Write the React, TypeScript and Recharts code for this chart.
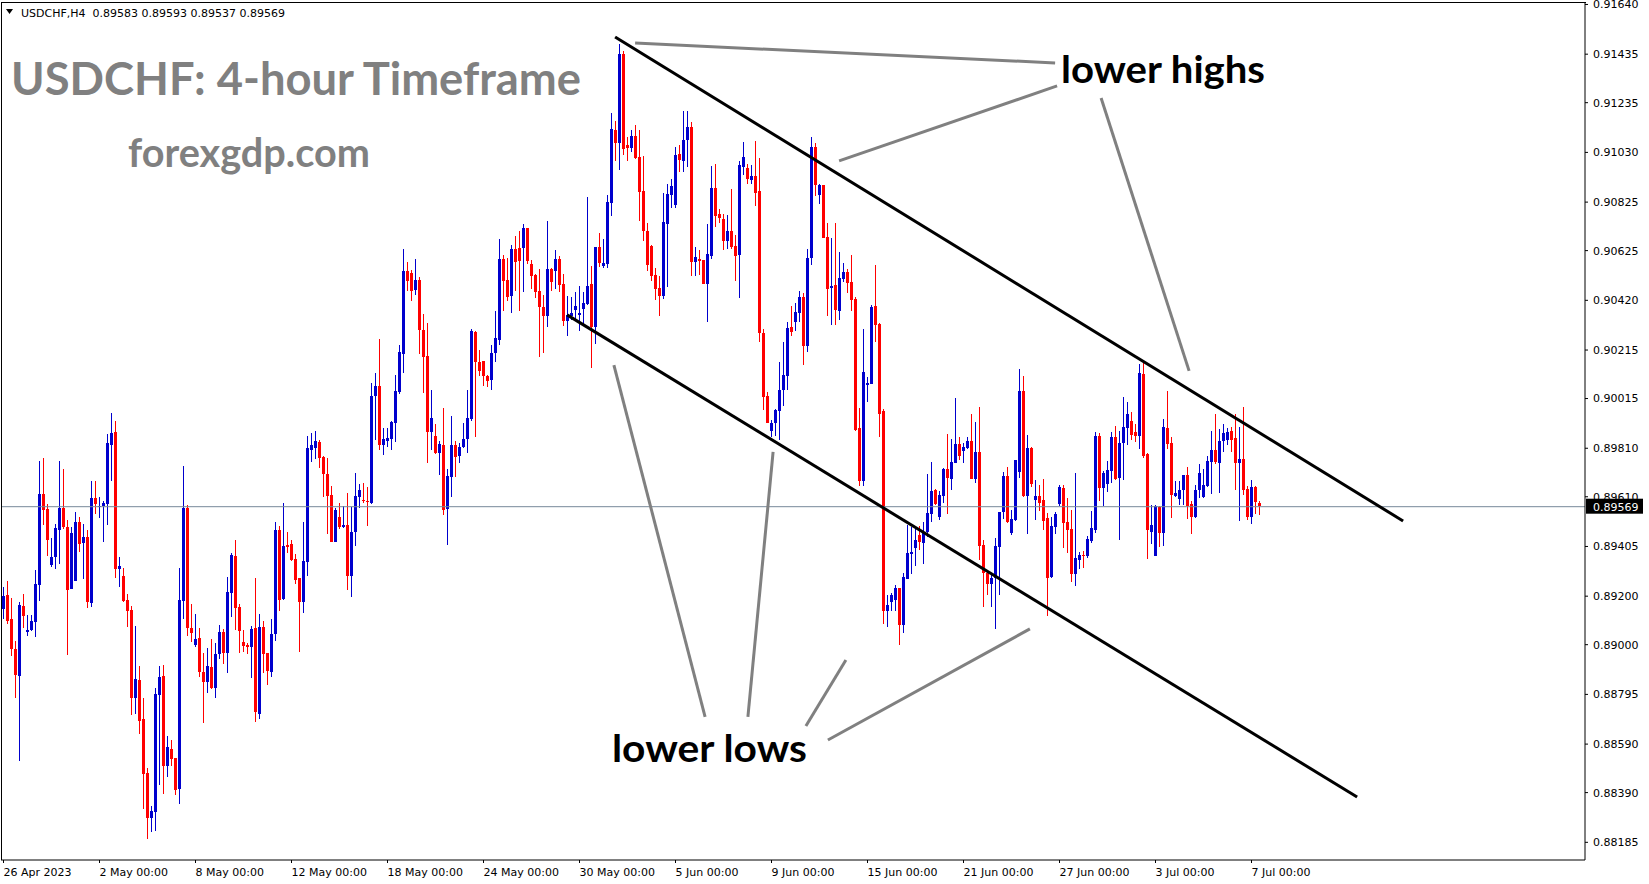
import React from 'react';
import { ComposedChart, Bar, XAxis, YAxis, ReferenceLine } from 'recharts';

// ---- Data (USDCHF H4 candles) ----
const opens = [
  0.89147,0.89205,0.89106,0.88982,0.88871,0.89159,0.89053,0.89058,0.89095,0.89246,
  0.89621,0.89559,0.89328,0.89363,0.89473,0.89565,0.89485,0.89229,0.89262,0.89506,
  0.89419,0.89444,0.89172,0.89604,0.89569,0.89572,0.89580,0.89823,0.89877,0.89312,
  0.89283,0.89184,0.89143,0.88781,0.88854,0.88693,0.88470,0.88285,0.88309,0.88792,
  0.88871,0.88499,0.88570,0.88532,0.88405,0.89180,0.89564,0.89069,0.88998,0.89027,
  0.88887,0.88846,0.88908,0.88821,0.88961,0.89052,0.88966,0.89213,0.89366,0.89155,
  0.89011,0.88998,0.88989,0.89068,0.88716,0.89074,0.88966,0.88891,0.89043,0.89472,
  0.89189,0.89411,0.89415,0.89353,0.89275,0.89175,0.89341,0.89803,0.89811,0.89836,
  0.89774,0.89705,0.89617,0.89423,0.89526,0.89485,0.89493,0.89283,0.89464,0.89609,
  0.89596,0.89592,0.89584,0.90026,0.90067,0.89823,0.89840,0.89848,0.89914,0.90042,
  0.90199,0.90541,0.90533,0.90462,0.90504,0.90298,0.90190,0.89877,0.89860,0.89790,
  0.89823,0.89557,0.89691,0.89823,0.89779,0.89815,0.89848,0.89930,0.90289,0.90166,
  0.90170,0.90107,0.90091,0.90203,0.90257,0.90590,0.90504,0.90438,0.90632,0.90636,
  0.90636,0.90718,0.90570,0.90524,0.90458,0.90393,0.90355,0.90549,0.90541,0.90590,
  0.90487,0.90335,0.90355,0.90380,0.90361,0.90384,0.90405,0.90487,0.90310,0.90640,
  0.90562,0.90570,0.90821,0.91123,0.91069,0.91436,0.91061,0.91048,0.91098,0.91011,
  0.90871,0.90706,0.90644,0.90524,0.90471,0.90437,0.90735,0.90854,0.90813,0.91023,
  0.90994,0.91081,0.91135,0.90578,0.90590,0.90586,0.90487,0.90603,0.90883,0.90776,
  0.90755,0.90664,0.90706,0.90644,0.90603,0.90970,0.90966,0.90916,0.90932,0.90871,
  0.90285,0.90024,0.89882,0.89914,0.89963,0.90050,0.90108,0.90310,0.90330,0.90367,
  0.90434,0.90231,0.90594,0.91052,0.90854,0.90895,0.90681,0.90471,0.90483,0.90376,
  0.90508,0.90537,0.90496,0.90426,0.89895,0.89675,0.90071,0.90075,0.90397,0.90323,
  0.89962,0.89139,0.89176,0.89185,0.89233,0.89081,0.89271,0.89374,0.89397,0.89452,
  0.89419,0.89465,0.89539,0.89638,0.89527,0.89613,0.89725,0.89683,0.89749,0.89828,
  0.89799,0.89811,0.89840,0.89683,0.89795,0.89411,0.89297,0.89250,0.89275,0.89403,
  0.89547,0.89695,0.89463,0.89514,0.89712,0.90046,0.89613,0.89811,0.89597,0.89613,
  0.89597,0.89522,0.89279,0.89486,0.89580,0.89646,0.89506,0.89477,0.89290,0.89349,
  0.89369,0.89365,0.89427,0.89473,0.89860,0.89646,0.89662,0.89716,0.89856,0.89687,
  0.89831,0.89893,0.89922,0.89877,0.89860,0.90116,0.89786,0.89464,0.89365,0.89567,
  0.89460,0.89893,0.89831,0.89612,0.89600,0.89637,0.89699,0.89580,0.89526,0.89637,
  0.89607,0.89654,0.89753,0.89803,0.89749,0.89840,0.89844,0.89881,0.89852,0.89749,
  0.89765,0.89642,0.89526,0.89650,0.89583,
];
const highs = [
  0.89239,0.89262,0.89192,0.89015,0.89177,0.89209,0.89122,0.89122,0.89308,0.89757,
  0.89770,0.89580,0.89440,0.89498,0.89757,0.89725,0.89514,0.89485,0.89547,0.89526,
  0.89498,0.89473,0.89675,0.89675,0.89610,0.89593,0.89869,0.89955,0.89922,0.89361,
  0.89316,0.89209,0.89159,0.89077,0.88912,0.88780,0.88491,0.88334,0.88821,0.88912,
  0.88916,0.88623,0.88607,0.88532,0.89316,0.89737,0.89576,0.89168,0.89127,0.89069,
  0.88965,0.88986,0.89023,0.89006,0.89081,0.89064,0.89279,0.89378,0.89431,0.89168,
  0.89060,0.89006,0.89075,0.89275,0.89126,0.89097,0.88966,0.89106,0.89506,0.89489,
  0.89584,0.89464,0.89431,0.89373,0.89275,0.89506,0.89860,0.89873,0.89881,0.89844,
  0.89777,0.89770,0.89654,0.89563,0.89584,0.89571,0.89625,0.89567,0.89708,0.89662,
  0.89666,0.89649,0.90079,0.90120,0.90260,0.89893,0.89893,0.89922,0.90112,0.90236,
  0.90632,0.90578,0.90545,0.90590,0.90516,0.90364,0.90326,0.90050,0.89910,0.89841,
  0.89976,0.89724,0.89943,0.89841,0.89832,0.89914,0.90050,0.90302,0.90294,0.90215,
  0.90170,0.90112,0.90236,0.90376,0.90673,0.90607,0.90595,0.90648,0.90685,0.90707,
  0.90735,0.90718,0.90587,0.90529,0.90549,0.90442,0.90747,0.90553,0.90627,0.90602,
  0.90529,0.90438,0.90434,0.90454,0.90479,0.90454,0.90846,0.90562,0.90640,0.90698,
  0.90673,0.90854,0.91193,0.91160,0.91477,0.91448,0.91094,0.91123,0.91143,0.91122,
  0.91015,0.90739,0.90648,0.90553,0.90520,0.90862,0.90899,0.90920,0.91052,0.91060,
  0.91201,0.91201,0.91155,0.90639,0.90627,0.90586,0.90735,0.90973,0.90982,0.90796,
  0.90776,0.90772,0.90879,0.90689,0.90994,0.91073,0.90982,0.90976,0.91077,0.91007,
  0.90302,0.90042,0.89928,0.89970,0.90165,0.90248,0.90330,0.90396,0.90409,0.90458,
  0.90450,0.90631,0.91093,0.91069,0.90899,0.90895,0.90739,0.90677,0.90739,0.90620,
  0.90574,0.90550,0.90607,0.90434,0.89976,0.90302,0.90104,0.90401,0.90566,0.90327,
  0.89972,0.89205,0.89215,0.89246,0.89233,0.89294,0.89494,0.89485,0.89489,0.89489,
  0.89506,0.89704,0.89753,0.89642,0.89634,0.89729,0.89869,0.89848,0.90018,0.89857,
  0.89832,0.89857,0.89952,0.89918,0.89980,0.89432,0.89308,0.89296,0.89440,0.89547,
  0.89712,0.89733,0.89556,0.89762,0.90137,0.90108,0.89865,0.89815,0.89680,0.89659,
  0.89683,0.89543,0.89527,0.89547,0.89658,0.89658,0.89605,0.89555,0.89708,0.89382,
  0.89386,0.89448,0.89551,0.89877,0.89873,0.89716,0.89757,0.89877,0.89902,0.89881,
  0.90021,0.90000,0.89959,0.89910,0.90157,0.90170,0.89790,0.89576,0.89576,0.89572,
  0.89930,0.90046,0.89856,0.89675,0.89675,0.89699,0.89732,0.89592,0.89658,0.89745,
  0.89724,0.89778,0.89881,0.89951,0.89889,0.89910,0.89893,0.89897,0.89951,0.89897,
  0.89980,0.89654,0.89679,0.89654,0.89593,
];
const lows = [
  0.89106,0.89085,0.88953,0.88781,0.88521,0.89069,0.89036,0.89058,0.89033,0.89180,
  0.89493,0.89366,0.89320,0.89312,0.89333,0.89477,0.88957,0.89229,0.89262,0.89382,
  0.89271,0.89151,0.89155,0.89539,0.89524,0.89423,0.89493,0.89675,0.89275,0.89238,
  0.89176,0.89073,0.88710,0.88714,0.88631,0.88322,0.88198,0.88227,0.88233,0.88421,
  0.88384,0.88454,0.88499,0.88380,0.88344,0.89106,0.89036,0.89011,0.88990,0.88866,
  0.88677,0.88800,0.88817,0.88780,0.88940,0.88920,0.88883,0.89114,0.89060,0.88966,
  0.88969,0.88961,0.88862,0.88681,0.88692,0.88883,0.88833,0.88866,0.89014,0.89138,
  0.89184,0.89378,0.89345,0.89250,0.88969,0.89130,0.89283,0.89753,0.89766,0.89729,
  0.89609,0.89456,0.89423,0.89423,0.89477,0.89481,0.89225,0.89196,0.89407,0.89563,
  0.89584,0.89489,0.89580,0.89844,0.89803,0.89782,0.89815,0.89803,0.89836,0.90034,
  0.90120,0.90458,0.90417,0.90442,0.90199,0.90038,0.89749,0.89803,0.89786,0.89699,
  0.89536,0.89411,0.89607,0.89691,0.89749,0.89811,0.89790,0.89922,0.89856,0.90107,
  0.90067,0.90063,0.90050,0.90166,0.90236,0.90376,0.90417,0.90368,0.90458,0.90376,
  0.90454,0.90570,0.90467,0.90430,0.90186,0.90203,0.90310,0.90458,0.90467,0.90454,
  0.90314,0.90273,0.90339,0.90343,0.90294,0.90314,0.90401,0.90141,0.90240,0.90557,
  0.90553,0.90553,0.90768,0.90995,0.90958,0.91020,0.90995,0.91032,0.91003,0.90747,
  0.90664,0.90541,0.90499,0.90421,0.90353,0.90425,0.90475,0.90802,0.90802,0.90949,
  0.90949,0.90970,0.90520,0.90520,0.90524,0.90487,0.90330,0.90590,0.90722,0.90739,
  0.90627,0.90631,0.90631,0.90499,0.90429,0.90937,0.90899,0.90899,0.90809,0.90247,
  0.89970,0.89913,0.89857,0.89857,0.89844,0.89984,0.90050,0.90273,0.90293,0.90330,
  0.90153,0.90207,0.90565,0.90850,0.90817,0.90677,0.90355,0.90318,0.90318,0.90341,
  0.90496,0.90451,0.90376,0.89881,0.89655,0.89655,0.90001,0.90075,0.90250,0.89857,
  0.89085,0.89073,0.89139,0.89139,0.88999,0.89047,0.89271,0.89292,0.89325,0.89391,
  0.89333,0.89444,0.89506,0.89576,0.89514,0.89585,0.89539,0.89638,0.89749,0.89762,
  0.89749,0.89807,0.89683,0.89667,0.89349,0.89157,0.89206,0.89157,0.89065,0.89206,
  0.89519,0.89502,0.89452,0.89510,0.89688,0.89609,0.89457,0.89650,0.89514,0.89552,
  0.89473,0.89118,0.89275,0.89456,0.89571,0.89398,0.89378,0.89260,0.89240,0.89312,
  0.89316,0.89357,0.89419,0.89460,0.89592,0.89571,0.89629,0.89666,0.89679,0.89431,
  0.89679,0.89823,0.89843,0.89836,0.89807,0.89770,0.89353,0.89415,0.89365,0.89402,
  0.89406,0.89807,0.89522,0.89607,0.89576,0.89576,0.89518,0.89456,0.89522,0.89605,
  0.89605,0.89650,0.89621,0.89745,0.89625,0.89794,0.89823,0.89794,0.89637,0.89510,
  0.89617,0.89514,0.89497,0.89538,0.89537,
];
const closes = [
  0.89200,0.89097,0.88982,0.88875,0.89163,0.89118,0.89062,0.89097,0.89250,0.89621,
  0.89555,0.89432,0.89363,0.89481,0.89565,0.89485,0.89225,0.89460,0.89506,0.89415,
  0.89444,0.89176,0.89604,0.89580,0.89572,0.89584,0.89832,0.89873,0.89312,0.89324,
  0.89180,0.89139,0.88781,0.88858,0.88685,0.88466,0.88285,0.88314,0.88796,0.88866,
  0.88499,0.88578,0.88528,0.88401,0.89184,0.89564,0.89069,0.89048,0.89023,0.88887,
  0.88846,0.88912,0.88821,0.88961,0.89052,0.88966,0.89217,0.89369,0.89151,0.89055,
  0.88994,0.88989,0.89064,0.88722,0.89074,0.88961,0.88891,0.89046,0.89472,0.89184,
  0.89407,0.89402,0.89349,0.89266,0.89175,0.89345,0.89811,0.89823,0.89840,0.89770,
  0.89705,0.89613,0.89423,0.89555,0.89485,0.89493,0.89283,0.89464,0.89613,0.89637,
  0.89592,0.89588,0.90026,0.90067,0.89823,0.89848,0.89852,0.89918,0.90046,0.90207,
  0.90541,0.90500,0.90458,0.90504,0.90298,0.90186,0.89877,0.89935,0.89790,0.89827,
  0.89557,0.89695,0.89823,0.89774,0.89815,0.89848,0.89935,0.90294,0.90166,0.90128,
  0.90107,0.90087,0.90203,0.90265,0.90590,0.90499,0.90434,0.90632,0.90578,0.90583,
  0.90718,0.90583,0.90520,0.90454,0.90393,0.90355,0.90549,0.90496,0.90590,0.90483,
  0.90335,0.90359,0.90368,0.90397,0.90368,0.90409,0.90479,0.90310,0.90640,0.90574,
  0.90574,0.90825,0.91127,0.91069,0.91436,0.91044,0.91048,0.91098,0.91007,0.90867,
  0.90706,0.90565,0.90520,0.90466,0.90437,0.90743,0.90858,0.90891,0.91019,0.90998,
  0.91081,0.91135,0.90578,0.90598,0.90582,0.90487,0.90610,0.90883,0.90767,0.90759,
  0.90664,0.90706,0.90639,0.90603,0.90976,0.91011,0.90920,0.90932,0.90862,0.90285,
  0.90021,0.89913,0.89914,0.89968,0.90050,0.90112,0.90306,0.90289,0.90372,0.90434,
  0.90231,0.90594,0.91052,0.90895,0.90895,0.90677,0.90466,0.90479,0.90380,0.90513,
  0.90537,0.90492,0.90422,0.89886,0.89675,0.90125,0.90080,0.90393,0.90319,0.89952,
  0.89139,0.89164,0.89205,0.89233,0.89081,0.89279,0.89378,0.89382,0.89430,0.89424,
  0.89465,0.89543,0.89634,0.89580,0.89617,0.89725,0.89688,0.89753,0.89828,0.89778,
  0.89815,0.89840,0.89683,0.89795,0.89407,0.89296,0.89250,0.89275,0.89407,0.89547,
  0.89695,0.89506,0.89519,0.89762,0.90046,0.89613,0.89811,0.89663,0.89613,0.89585,
  0.89510,0.89275,0.89490,0.89538,0.89650,0.89501,0.89473,0.89290,0.89357,0.89369,
  0.89365,0.89435,0.89481,0.89860,0.89646,0.89708,0.89720,0.89856,0.89683,0.89831,
  0.89897,0.89951,0.89864,0.89860,0.90120,0.89778,0.89473,0.89493,0.89572,0.89460,
  0.89897,0.89827,0.89617,0.89625,0.89637,0.89699,0.89571,0.89526,0.89637,0.89708,
  0.89658,0.89757,0.89803,0.89753,0.89840,0.89873,0.89877,0.89844,0.89749,0.89765,
  0.89637,0.89526,0.89650,0.89588,0.89569,
];

const dateLabels = [
  '26 Apr 2023', '2 May 00:00', '8 May 00:00', '12 May 00:00', '18 May 00:00',
  '24 May 00:00', '30 May 00:00', '5 Jun 00:00', '9 Jun 00:00', '15 Jun 00:00',
  '21 Jun 00:00', '27 Jun 00:00', '3 Jul 00:00', '7 Jul 00:00',
];
const dateLabelBars = [0, 24, 48, 72, 96, 120, 144, 168, 192, 216, 240, 264, 288, 312];

const priceTicks = [
  0.9164, 0.91435, 0.91235, 0.9103, 0.90825, 0.90625, 0.9042, 0.90215, 0.90015,
  0.8981, 0.8961, 0.89405, 0.892, 0.89, 0.88795, 0.8859, 0.8839, 0.88185,
];
const lastPrice = 0.89569;
const headerText = 'USDCHF,H4\u00A0\u00A00.89583 0.89593 0.89537 0.89569';

// trend channel lines [bar, price] -> [bar, price]
const channelLines = [
  [[152.9, 0.91506], [349.9, 0.8951]],
  [[140.9, 0.9036], [338.4, 0.88372]],
];
// grey pointer lines
const pointerLines = [
  [[157.9, 0.91481], [262.9, 0.91399]],
  [[208.9, 0.90995], [263.4, 0.91304]],
  [[274.4, 0.91254], [296.4, 0.90129]],
  [[152.6, 0.90153], [175.4, 0.88702]],
  [[192.4, 0.89795], [186.1, 0.88702]],
  [[210.6, 0.88937], [200.6, 0.88665]],
  [[256.6, 0.89065], [206.1, 0.88607]],
];

const BLUE = '#0000CD';
const RED = '#FF0000';
const Y_MIN = 0.881121;
const Y_MAX = 0.916502;

const data = opens.map((o, i) => ({
  i,
  o,
  h: highs[i],
  l: lows[i],
  c: closes[i],
  range: [lows[i], highs[i]],
}));

const Candle = (props: any) => {
  const { x, y, width, height, payload } = props;
  if (!payload || x == null || y == null) return null;
  const { o, h, l, c } = payload;
  const cx = Math.round(x + width / 2 - 0.5) + 0.5;
  const k = h > l ? height / (h - l) : 0;
  const yo = y + (h - o) * k;
  const yc = y + (h - c) * k;
  const col = c >= o ? BLUE : RED;
  const top = Math.round(Math.min(yo, yc));
  const bh = Math.max(1, Math.round(Math.abs(yo - yc)));
  return (
    <g shapeRendering="crispEdges">
      <rect x={cx - 0.5} y={Math.round(y)} width={1} height={Math.max(1, Math.round(height))} fill={col} />
      <rect x={cx - 1.5} y={top} width={3} height={bh} fill={col} />
    </g>
  );
};

const XTick = (props: any) => {
  const { x, y, payload } = props;
  const idx = dateLabelBars.indexOf(payload.value);
  return (
    <text x={x} y={y} dy="0.71em" textAnchor="start" fill="#000" fontSize={11} fontFamily="DejaVu Sans">
      {idx >= 0 ? dateLabels[idx] : ''}
    </text>
  );
};

const PriceTag = (props: any) => {
  const vb = props.viewBox || {};
  const x = (vb.x || 0) + (vb.width || 0);
  const y = vb.y || 0;
  return (
    <g>
      <rect x={x + 1} y={y - 8} width={57} height={15} fill="#000" />
      <text x={x + 8} y={y + 4} fill="#fff" fontSize={11} fontFamily="DejaVu Sans">
        {lastPrice.toFixed(5)}
      </text>
    </g>
  );
};

export default function App() {
  return (
    <div style={{ position: 'absolute', left: 0, top: 0, width: 1649, height: 884, background: '#fff', overflow: 'hidden' }}>
      <ComposedChart
        width={1649}
        height={884}
        data={data}
        margin={{ top: 2, right: 0, bottom: 0, left: 1 }}
        style={{ fontFamily: 'DejaVu Sans' }}
      >
        <XAxis
          type="number"
          dataKey="i"
          domain={[-0.625, 395.375]}
          allowDataOverflow
          ticks={dateLabelBars}
          interval={0}
          height={24}
          tickSize={3}
          tickMargin={5}
          tick={<XTick />}
          axisLine={{ stroke: '#000' }}
          tickLine={{ stroke: '#000' }}
        />
        <YAxis
          orientation="right"
          type="number"
          domain={[Y_MIN, Y_MAX]}
          allowDataOverflow
          ticks={priceTicks}
          interval={0}
          width={64}
          tickSize={3}
          tickMargin={5}
          tickFormatter={(v: number) => v.toFixed(5)}
          tick={{ fill: '#000', fontSize: 11, fontFamily: 'DejaVu Sans' }}
          axisLine={{ stroke: '#000' }}
          tickLine={{ stroke: '#000' }}
        />
        <ReferenceLine y={lastPrice} stroke="#778899" strokeWidth={1} label={<PriceTag />} />
        <Bar dataKey="range" barSize={3} shape={<Candle />} isAnimationActive={false} />
        {channelLines.map((s, k) => (
          <ReferenceLine
            key={'ch' + k}
            segment={[{ x: s[0][0], y: s[0][1] }, { x: s[1][0], y: s[1][1] }]}
            stroke="#000"
            strokeWidth={3}
          />
        ))}
        {pointerLines.map((s, k) => (
          <ReferenceLine
            key={'pl' + k}
            segment={[{ x: s[0][0], y: s[0][1] }, { x: s[1][0], y: s[1][1] }]}
            stroke="#808080"
            strokeWidth={3}
          />
        ))}
      </ComposedChart>
      <svg width={1649} height={884} style={{ position: 'absolute', left: 0, top: 0, pointerEvents: 'none' }}>
        <line x1={1.5} y1={2} x2={1.5} y2={860} stroke="#000" strokeWidth={1} />
        <line x1={1} y1={2.5} x2={1586} y2={2.5} stroke="#000" strokeWidth={1} />
        <polygon points="6,9 13,9 9.5,14" fill="#000" />
        <text x={21} y={16.5} fontSize={11} fontFamily="DejaVu Sans" fill="#000">{headerText}</text>
        <text x={11} y={95} fontSize={46} fontWeight="bold" fontFamily="Lato" fill="#808080" textLength={570} lengthAdjust="spacingAndGlyphs">
          USDCHF: 4-hour Timeframe
        </text>
        <text x={128} y={167} fontSize={40} fontWeight="bold" fontFamily="Lato" fill="#808080" textLength={242} lengthAdjust="spacingAndGlyphs">
          forexgdp.com
        </text>
        <text x={1061} y={83} fontSize={38} fontWeight="bold" fontFamily="Lato" fill="#000" textLength={204} lengthAdjust="spacingAndGlyphs">
          lower highs
        </text>
        <text x={612} y={762} fontSize={38} fontWeight="bold" fontFamily="Lato" fill="#000" textLength={195} lengthAdjust="spacingAndGlyphs">
          lower lows
        </text>
      </svg>
    </div>
  );
}
